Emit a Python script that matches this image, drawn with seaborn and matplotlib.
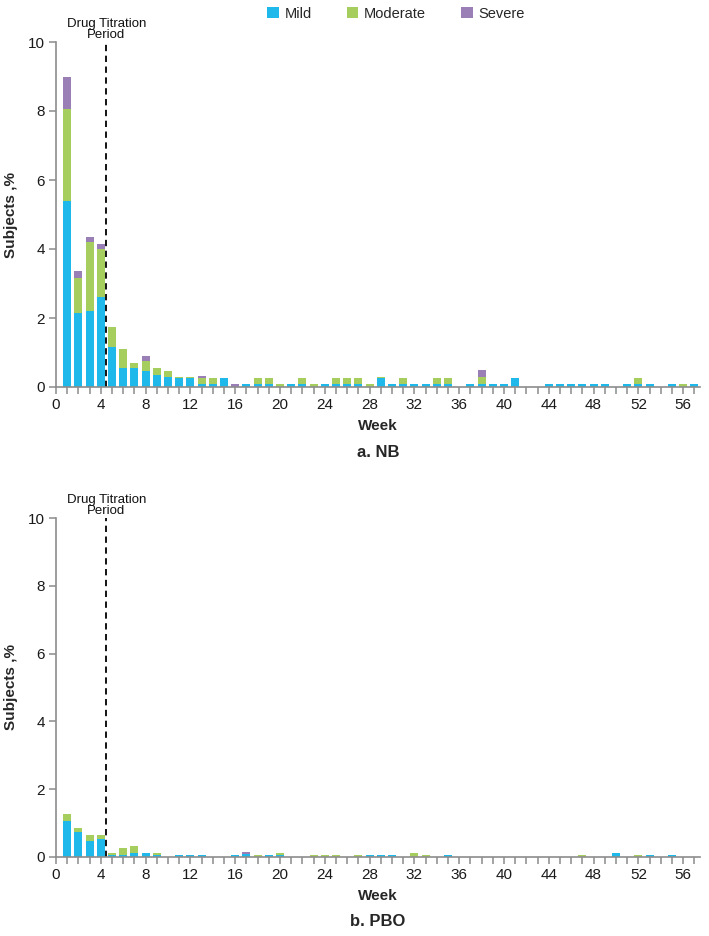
import numpy as np
import pandas as pd
import seaborn as sns
import matplotlib
matplotlib.use("Agg")
import matplotlib.pyplot as plt
from matplotlib.patches import Patch
from matplotlib.ticker import MultipleLocator
from matplotlib.transforms import blended_transform_factory

weeks = list(range(1, 58))

# NB panel (% subjects), weeks 1..57
nb_mild = [5.4, 2.15, 2.2, 2.6, 1.15, 0.55, 0.55, 0.45, 0.35, 0.3,
           0.25, 0.25, 0.1, 0.1, 0.25, 0, 0.1, 0.1, 0.1, 0,
           0.1, 0.1, 0, 0.1, 0.1, 0.1, 0.1, 0, 0.25, 0.1,
           0.1, 0.1, 0.1, 0.1, 0.1, 0, 0.1, 0.1, 0.1, 0.1,
           0.25, 0, 0, 0.1, 0.1, 0.1, 0.1, 0.1, 0.1, 0,
           0.1, 0.1, 0.1, 0, 0.1, 0, 0.1]
nb_moderate = [2.65, 1.0, 2.0, 1.4, 0.6, 0.55, 0.15, 0.3, 0.2, 0.15,
               0.05, 0.05, 0.15, 0.15, 0, 0, 0, 0.15, 0.15, 0.1,
               0, 0.15, 0.1, 0, 0.15, 0.15, 0.15, 0.1, 0.05, 0,
               0.15, 0, 0, 0.15, 0.15, 0, 0, 0.2, 0, 0,
               0, 0, 0, 0, 0, 0, 0, 0, 0, 0,
               0, 0.15, 0, 0, 0, 0.1, 0]
nb_severe = [0.93, 0.2, 0.14, 0.14, 0, 0, 0, 0.14, 0, 0,
             0, 0, 0.07, 0, 0, 0.1, 0, 0, 0, 0,
             0, 0, 0, 0, 0, 0, 0, 0, 0, 0,
             0, 0, 0, 0, 0, 0, 0, 0.2, 0, 0,
             0, 0, 0, 0, 0, 0, 0, 0, 0, 0,
             0, 0, 0, 0, 0, 0, 0]

# PBO panel (% subjects), weeks 1..57
pbo_mild = [1.06, 0.74, 0.46, 0.53, 0.07, 0.07, 0.13, 0.13, 0.07, 0,
            0.07, 0.07, 0.07, 0, 0, 0.07, 0.08, 0, 0.07, 0.07,
            0, 0, 0, 0, 0, 0, 0, 0.07, 0.07, 0.07,
            0, 0, 0, 0, 0.07, 0, 0, 0, 0, 0,
            0, 0, 0, 0, 0, 0, 0, 0, 0, 0.13,
            0, 0, 0.07, 0, 0.07, 0, 0]
pbo_moderate = [0.22, 0.13, 0.2, 0.13, 0.06, 0.19, 0.2, 0, 0.06, 0,
                0, 0, 0, 0, 0, 0, 0, 0.07, 0, 0.06,
                0, 0, 0.07, 0.07, 0.07, 0, 0.07, 0, 0, 0,
                0, 0.13, 0.07, 0, 0, 0, 0, 0, 0, 0,
                0, 0, 0, 0, 0, 0, 0.07, 0, 0, 0,
                0, 0.07, 0, 0, 0, 0, 0]
pbo_severe = [0] * 16 + [0.08] + [0] * 40

severity = ["Mild", "Moderate", "Severe"]
colors = {"Mild": "#1FB8EA", "Moderate": "#A5CE5F", "Severe": "#9A7FB7"}
panel_labels = ["a. NB", "b. PBO"]
xtick_vals = list(range(0, 57, 4))
ytick_vals = [0, 2, 4, 6, 8, 10]

sns.set_theme(style="white")
plt.rcParams["font.family"] = ["Liberation Sans Narrow", "Liberation Sans", "DejaVu Sans"]

W, H = 709, 936
fig = plt.figure(figsize=(W / 100, H / 100), dpi=100)
left, right = 56 / W, 700 / W
ax_top = fig.add_axes([left, 1 - 387 / H, right - left, 345 / H])
ax_bot = fig.add_axes([left, 1 - 857 / H, right - left, 339 / H])

gray = "#8C8C8C"

def draw(ax, mild, moderate, severe, label):
    df = pd.DataFrame({"week": weeks, "Mild": mild, "Moderate": moderate, "Severe": severe})
    df["c_mod"] = df["Mild"] + df["Moderate"]
    df["c_sev"] = df["c_mod"] + df["Severe"]
    for col, key in [("c_sev", "Severe"), ("c_mod", "Moderate"), ("Mild", "Mild")]:
        sns.barplot(data=df, x="week", y=col, native_scale=True, width=0.72,
                    color=colors[key], saturation=1, errorbar=None,
                    linewidth=0, ax=ax)
    ax.set_xlim(0, 57.5)
    ax.set_ylim(0, 10)
    ax.set_xticks(xtick_vals)
    ax.set_xticklabels([str(v) for v in xtick_vals])
    ax.xaxis.set_minor_locator(MultipleLocator(1))
    ax.set_yticks(ytick_vals)
    ax.set_yticklabels([str(v) for v in ytick_vals])
    for s in ["top", "right"]:
        ax.spines[s].set_visible(False)
    for s in ["left", "bottom"]:
        ax.spines[s].set_color(gray)
        ax.spines[s].set_linewidth(1.2)
    ax.tick_params(axis="both", which="both", direction="out", length=5,
                   width=1.1, color=gray, labelsize=11, labelcolor="#1a1a1a",
                   bottom=True, left=True, pad=3)
    ax.tick_params(axis="y", which="minor", left=False)
    ax.set_xlabel("Week", fontsize=11, fontweight="bold", labelpad=5)
    ax.set_ylabel("Subjects ,%", fontsize=11, fontweight="bold", labelpad=7)
    ax.axvline(4.5, 0, 1, color="black", lw=1.3, ls=(0, (3.5, 2.5)))
    tr = blended_transform_factory(ax.transData, ax.transAxes)
    ax.text(4.5, 1.004, "Drug Titration\nPeriod", transform=tr, ha="center",
            va="bottom", fontsize=9.5, linespacing=0.8, color="#111111")
    ax.text(0.5, -0.19, label, transform=ax.transAxes, ha="center", va="center",
            fontsize=12, fontweight="bold")

draw(ax_top, nb_mild, nb_moderate, nb_severe, panel_labels[0])
draw(ax_bot, pbo_mild, pbo_moderate, pbo_severe, panel_labels[1])

handles = [Patch(facecolor=colors[k], edgecolor="none", label=k) for k in severity]
fig.legend(handles=handles, loc="upper center", bbox_to_anchor=(396 / W, 1 - 1 / H),
           ncol=3, frameon=False, fontsize=10.5, handlelength=0.8, handleheight=0.8,
           handletextpad=0.4, columnspacing=2.4, borderaxespad=0)

fig.savefig("out.png", dpi=100)
